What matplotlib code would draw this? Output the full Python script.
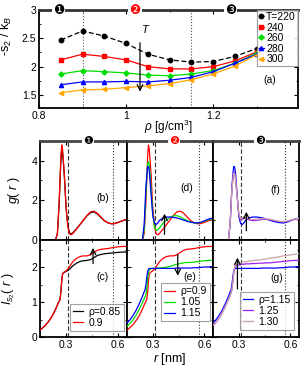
import numpy as np
import matplotlib
matplotlib.use('Agg')
import matplotlib.pyplot as plt
from matplotlib.ticker import MultipleLocator, FixedLocator, FuncFormatter

plt.rcParams['font.family'] = ['Liberation Sans', 'DejaVu Sans']
plt.rcParams['mathtext.fontset'] = 'custom'
plt.rcParams['mathtext.rm'] = 'Liberation Sans'
plt.rcParams['mathtext.it'] = 'Liberation Sans:italic'

# ---- panel (a): two-body entropy vs density
rho = [0.85, 0.90, 0.95, 1.00, 1.05, 1.10, 1.15, 1.20, 1.25, 1.30]
s2_220 = [2.47, 2.63, 2.54, 2.41, 2.22, 2.12, 2.08, 2.09, 2.18, 2.32]
s2_240 = [2.12, 2.22, 2.18, 2.12, 2.00, 1.96, 1.96, 2.00, 2.10, 2.26]
s2_260 = [1.87, 1.93, 1.91, 1.89, 1.85, 1.84, 1.87, 1.93, 2.06, 2.24]
s2_280 = [1.68, 1.73, 1.73, 1.74, 1.73, 1.76, 1.81, 1.91, 2.06, 2.22]
s2_300 = [1.54, 1.59, 1.60, 1.63, 1.66, 1.70, 1.77, 1.87, 2.01, 2.21]
temps = ['T=220', '240', '260', '280', '300']

# ---- g(r)
r_g = [0.24, 0.25, 0.26, 0.27, 0.275, 0.28, 0.29, 0.30, 0.31, 0.32, 0.33, 0.34,
       0.36, 0.38, 0.40, 0.42, 0.44, 0.46, 0.48, 0.50, 0.52, 0.54, 0.56, 0.58,
       0.60, 0.62, 0.64, 0.66]
g_085 = [0, 0.3, 1.8, 4.0, 4.6, 4.4, 3.2, 1.6, 0.7, 0.33, 0.28, 0.35, 0.55, 0.76,
         0.98, 1.2, 1.36, 1.4, 1.3, 1.12, 0.95, 0.85, 0.8, 0.81, 0.87, 0.94, 1.0, 1.04]
g_090 = [0, 0.3, 1.9, 4.2, 4.8, 4.55, 3.3, 1.6, 0.65, 0.28, 0.24, 0.32, 0.53, 0.76,
         0.99, 1.22, 1.4, 1.44, 1.33, 1.14, 0.96, 0.85, 0.8, 0.81, 0.87, 0.94, 1.0, 1.04]
g_105 = [0, 0.5, 2.4, 3.85, 3.95, 3.75, 2.6, 1.3, 0.62, 0.46, 0.5, 0.6, 0.83, 1.0,
         1.12, 1.2, 1.21, 1.15, 1.05, 0.96, 0.89, 0.85, 0.84, 0.87, 0.93, 0.99, 1.04, 1.07]
g_115 = [0, 0.8, 2.7, 3.7, 3.7, 3.45, 2.3, 1.2, 0.82, 0.76, 0.85, 0.98, 1.1, 1.14,
         1.14, 1.12, 1.09, 1.04, 0.98, 0.92, 0.88, 0.85, 0.84, 0.88, 0.95, 1.02, 1.07, 1.1]
g_125 = [0, 0.9, 2.6, 3.4, 3.4, 3.15, 2.2, 1.3, 1.0, 1.03, 1.1, 1.08, 1.0, 0.96,
         0.97, 1.0, 1.02, 1.02, 1.0, 0.97, 0.93, 0.9, 0.89, 0.92, 0.97, 1.02, 1.05, 1.06]
g_130 = [0, 0.9, 2.55, 3.35, 3.35, 3.1, 2.2, 1.35, 1.05, 1.1, 1.15, 1.12, 1.05, 1.02,
         1.03, 1.05, 1.06, 1.05, 1.03, 0.99, 0.95, 0.92, 0.91, 0.93, 0.98, 1.03, 1.07, 1.08]

# ---- cumulative two-body entropy I_s2(r)
r_i = [0.15, 0.16, 0.18, 0.20, 0.22, 0.24, 0.25, 0.255, 0.26, 0.265, 0.27, 0.275,
       0.28, 0.29, 0.30, 0.31, 0.32, 0.33, 0.34, 0.36, 0.38, 0.40, 0.42, 0.44,
       0.46, 0.48, 0.50, 0.52, 0.54, 0.56, 0.58, 0.60, 0.62, 0.64, 0.66]
i_085 = [0.2, 0.24, 0.33, 0.45, 0.6, 0.8, 0.92, 0.98, 1.02, 1.08, 1.3, 1.62, 1.82,
         1.86, 1.88, 1.91, 1.95, 2.0, 2.05, 2.12, 2.17, 2.19, 2.2, 2.22, 2.28, 2.34,
         2.37, 2.39, 2.4, 2.41, 2.42, 2.43, 2.44, 2.44, 2.45]
i_090 = [0.2, 0.24, 0.33, 0.45, 0.6, 0.8, 0.92, 0.98, 1.02, 1.08, 1.3, 1.62, 1.82,
         1.87, 1.9, 1.95, 2.02, 2.1, 2.17, 2.26, 2.31, 2.33, 2.33, 2.36, 2.43, 2.49,
         2.52, 2.53, 2.54, 2.56, 2.58, 2.59, 2.6, 2.6, 2.61]
i_105 = [0.3, 0.35, 0.46, 0.6, 0.78, 0.99, 1.1, 1.16, 1.22, 1.4, 1.65, 1.85, 1.93,
         1.96, 1.97, 1.97, 1.97, 1.98, 1.98, 1.99, 2.01, 2.03, 2.06, 2.09, 2.11, 2.13,
         2.14, 2.14, 2.15, 2.16, 2.18, 2.19, 2.2, 2.2, 2.21]
i_115 = [0.4, 0.45, 0.58, 0.74, 0.94, 1.17, 1.3, 1.36, 1.5, 1.72, 1.88, 1.95, 1.97,
         1.97, 1.97, 1.97, 1.97, 1.97, 1.97, 1.97, 1.97, 1.97, 1.97, 1.98, 1.98, 1.98,
         1.98, 1.98, 1.99, 1.99, 2.0, 2.01, 2.01, 2.02, 2.02]
i_125 = [0.33, 0.38, 0.5, 0.66, 0.86, 1.08, 1.2, 1.27, 1.36, 1.55, 1.8, 1.97, 2.03,
         2.06, 2.07, 2.08, 2.09, 2.09, 2.1, 2.1, 2.11, 2.11, 2.12, 2.12, 2.13, 2.13,
         2.14, 2.15, 2.16, 2.17, 2.18, 2.19, 2.2, 2.2, 2.21]
i_130 = [0.34, 0.39, 0.51, 0.67, 0.87, 1.09, 1.21, 1.28, 1.37, 1.56, 1.82, 2.0, 2.07,
         2.11, 2.13, 2.14, 2.15, 2.16, 2.16, 2.18, 2.19, 2.2, 2.21, 2.23, 2.24, 2.26,
         2.28, 2.29, 2.31, 2.33, 2.34, 2.36, 2.37, 2.39, 2.4]

FS = 7.5
W, H = 303, 367
fig = plt.figure(figsize=(W / 100, H / 100), dpi=100)
gfmt = FuncFormatter(lambda v, p: '{:g}'.format(round(v, 3)))


def frac(x0, y0, x1, y1):
    # pixel box -> figure fraction
    return [x0 / W, 1 - y1 / H, (x1 - x0) / W, (y1 - y0) / H]


def style(ax, lw=1.3):
    ax.tick_params(which='both', direction='in', top=True, right=True,
                   labelsize=FS, pad=2)
    ax.tick_params(which='major', length=3, width=0.8)
    ax.tick_params(which='minor', length=1.6, width=0.6)
    for s in ax.spines.values():
        s.set_linewidth(lw)


def badge(ax, x, txt, col, trans, fs=9):
    ax.text(x, 1.0, txt, transform=trans, ha='center', va='center',
            fontsize=fs, color=col, family=['DejaVu Sans'], clip_on=False,
            zorder=10, bbox=dict(boxstyle='square,pad=0.1', fc='white', ec='none'))


# ---------------- panel (a)
axa = fig.add_axes(frac(39, 10, 298, 108))
style(axa)
axa.spines['top'].set_linewidth(2.0)
axa.spines['top'].set_color('#333333')
cols = ['black', '#ff0000', '#00dd00', '#0000ff', '#ffa500']
marks = ['o', 's', 'D', '^', '<']
sers = [s2_220, s2_240, s2_260, s2_280, s2_300]
for i, (y, c, m, lab) in enumerate(zip(sers, cols, marks, temps)):
    if i == 0:
        axa.plot(rho, y, color=c, lw=0.9, ls='--', dashes=(4, 2), marker=m,
                 ms=3.2, mec=c, mfc=c, label=lab)
    else:
        axa.plot(rho, y, color=c, lw=0.9, marker=m, ms=2.6 if m == 'D' else 3.0,
                 mec=c, mfc=c, label=lab)
for xv in (0.9, 1.15):
    axa.axvline(xv, color='#555555', ls=':', lw=0.8, zorder=0)
axa.set_xlim(0.8, 1.395)
axa.set_ylim(1.27, 3.0)
axa.xaxis.set_major_locator(FixedLocator([0.8, 1.0, 1.2]))
axa.xaxis.set_minor_locator(FixedLocator([0.9, 1.1, 1.3]))
axa.xaxis.set_major_formatter(gfmt)
axa.yaxis.set_major_locator(MultipleLocator(0.5))
axa.yaxis.set_minor_locator(MultipleLocator(0.25))
axa.yaxis.set_major_formatter(gfmt)
axa.set_xlabel(r'$\rho$ [g/cm$^3$]', fontsize=8.5, labelpad=-2)
axa.set_ylabel(r'-s$_2$ / k$_B$', fontsize=9)
axa.yaxis.set_label_coords(-0.095, 0.74)
axa.annotate('', xy=(1.032, 1.51), xytext=(1.032, 2.47),
             arrowprops=dict(arrowstyle='->', color='black', lw=0.9))
axa.text(1.045, 2.64, 'T', fontsize=8, style='italic', ha='center', va='center')
axa.text(1.331, 1.77, '(a)', fontsize=FS, ha='center', va='center')
leg = axa.legend(loc='upper right', fontsize=FS, handlelength=0.5,
                 handletextpad=0.2, labelspacing=0.05, borderpad=0.2,
                 borderaxespad=0.0, frameon=True, fancybox=False)
leg.get_frame().set_edgecolor('#888888')
leg.get_frame().set_linewidth(0.8)
ta = axa.get_xaxis_transform()
badge(axa, 0.845, '\u2776', 'black', ta)
badge(axa, 1.02, '\u2777', '#ff0000', ta)
badge(axa, 1.24, '\u2778', 'black', ta)

# ---------------- panels (b)-(g)
xs = [40, 127, 213, 299]
gpanels = [
    [(g_085, 'black'), (g_090, '#ff0000')],
    [(g_090, '#ff0000'), (g_105, '#00dd00'), (g_115, '#0000ff')],
    [(g_115, '#0000ff'), (g_125, '#a020f0'), (g_130, '#c9a3a3')],
]
ipanels = [
    [(i_085, 'black', 'ρ=0.85'), (i_090, '#ff0000', '0.9')],
    [(i_090, '#ff0000', 'ρ=0.9'), (i_105, '#00dd00', '1.05'),
     (i_115, '#0000ff', '1.15')],
    [(i_115, '#0000ff', 'ρ=1.15'), (i_125, '#a020f0', '1.25'),
     (i_130, '#c9a3a3', '1.30')],
]
glabels = ['(b)', '(d)', '(f)']
ilabels = ['(c)', '(e)', '(g)']
glabpos = [(0.51, 2.1), (0.495, 2.6), (0.515, 2.5)]
ilabpos = [(0.51, 1.73), (0.515, 1.72), (0.52, 1.7)]
badges = [('\u2776', 'black'), ('\u2777', '#ff0000'), ('\u2778', 'black')]
garrows = [None, (0.368, 0.12, 1.45), (0.344, 0.3, 1.55)]
iarrows = [(0.455, 2.03, 2.64), (0.445, 2.45, 1.68), (0.292, 1.3, 2.36)]
legbox = [(0.96, 0.06), (0.96, 0.16), (0.94, 0.07)]

for k in range(3):
    axg = fig.add_axes(frac(xs[k], 141, xs[k + 1], 239.5))
    axi = fig.add_axes(frac(xs[k], 239.5, xs[k + 1], 337))
    for ax in (axg, axi):
        style(ax)
        ax.set_xlim(0.15, 0.65)
        ax.xaxis.set_major_locator(MultipleLocator(0.3))
        ax.xaxis.set_minor_locator(MultipleLocator(0.15))
        ax.xaxis.set_major_formatter(gfmt)
        ax.yaxis.set_major_formatter(gfmt)
        ax.axvline(0.31, color='#333333', ls='--', lw=0.8, dashes=(4, 2), zorder=1)
        ax.axvline(0.57, color='#333333', ls=':', lw=0.8, zorder=1)
    axg.spines['top'].set_linewidth(2.0)
    axg.spines['top'].set_color('#444444')

    for y, c in gpanels[k]:
        axg.plot(r_g, y, color=c, lw=0.9, zorder=3)
    axg.set_ylim(0, 5)
    axg.yaxis.set_major_locator(MultipleLocator(2))
    axg.yaxis.set_minor_locator(MultipleLocator(1))
    axg.set_xticklabels([])
    axg.text(*glabpos[k], glabels[k], fontsize=FS, ha='center', va='center')
    badge(axg, 0.55, badges[k][0], badges[k][1], axg.transAxes, fs=8)
    if garrows[k]:
        xa, y0, y1 = garrows[k]
        axg.annotate('', xy=(xa, y1), xytext=(xa, y0),
                     arrowprops=dict(arrowstyle='->', color='black', lw=0.9))

    for y, c, lab in ipanels[k]:
        axi.plot(r_i, y, color=c, lw=0.9, label=lab, zorder=3)
    axi.set_ylim(0, 2.8)
    axi.yaxis.set_major_locator(MultipleLocator(1))
    axi.yaxis.set_minor_locator(MultipleLocator(0.5))
    axi.text(*ilabpos[k], ilabels[k], fontsize=FS, ha='center', va='center')
    xa, y0, y1 = iarrows[k]
    axi.annotate('', xy=(xa, y1), xytext=(xa, y0),
                 arrowprops=dict(arrowstyle='->', color='black', lw=0.9))
    lg = axi.legend(loc='lower right', bbox_to_anchor=legbox[k], fontsize=FS,
                    handlelength=1.0, handletextpad=0.5, labelspacing=0.1,
                    borderpad=0.3, borderaxespad=0.0, fancybox=False)
    lg.get_frame().set_edgecolor('#888888')
    lg.get_frame().set_linewidth(0.8)

    if k == 0:
        axg.set_ylabel(r'$g$( $r$ )', fontsize=9)
        axg.yaxis.set_label_coords(-0.21, 0.5)
        axi.set_ylabel(r'$I_{s_2}$( $r$ )', fontsize=9)
        axi.yaxis.set_label_coords(-0.26, 0.5)
    else:
        axg.set_yticklabels([])
        axi.set_yticklabels([])
    if k == 1:
        axi.set_xlabel(r'$r$ [nm]', fontsize=9, labelpad=1)

fig.savefig('out.png', dpi=100)
